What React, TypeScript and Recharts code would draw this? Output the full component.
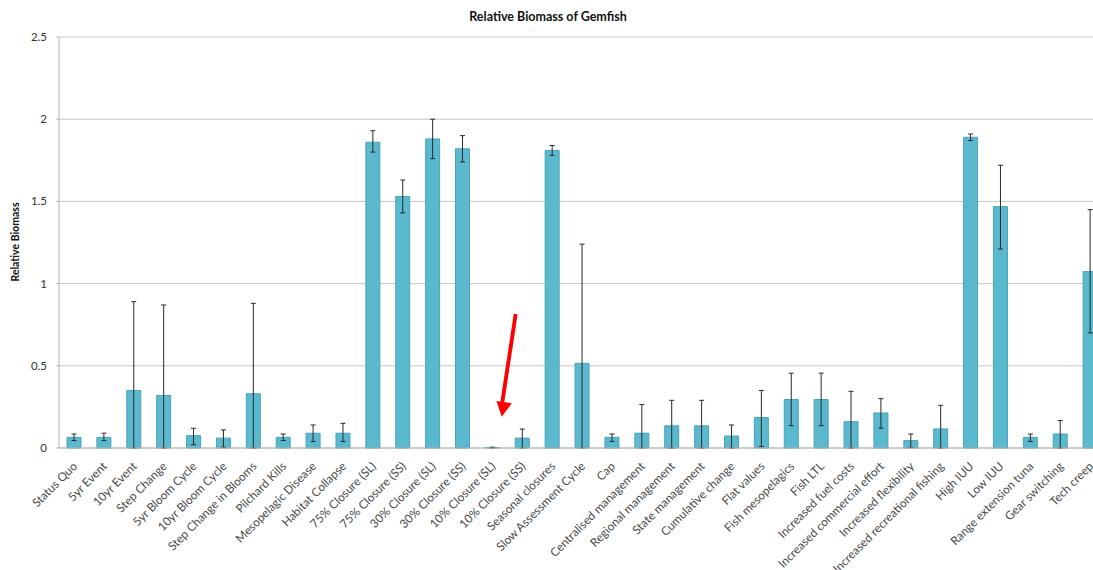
import { BarChart, Bar, XAxis, YAxis, CartesianGrid, ErrorBar } from "recharts";

const scenarios = [
  "Status Quo", "5yr Event", "10yr Event", "Step Change", "5yr Bloom Cycle",
  "10yr Bloom Cycle", "Step Change in Blooms", "Pilchard Kills", "Mesopelagic Disease",
  "Habitat Collapse", "75% Closure (SL)", "75% Closure (SS)", "30% Closure (SL)",
  "30% Closure (SS)", "10% Closure (SL)", "10% Closure (SS)", "Seasonal closures",
  "Slow Assessment Cycle", "Cap", "Centralised management", "Regional management",
  "State management", "Cumulative change", "Flat values", "Fish mesopelagics",
  "Fish LTL", "Increased fuel costs", "Increased commercial effort",
  "Increased flexibility", "Increased recreational fishing", "High IUU", "Low IUU",
  "Range extension tuna", "Gear switching", "Tech creep",
];

const biomass = [
  0.065, 0.065, 0.35, 0.32, 0.075, 0.06, 0.33, 0.065, 0.09, 0.09,
  1.86, 1.53, 1.88, 1.82, 0.003, 0.06, 1.81, 0.515, 0.065, 0.09,
  0.135, 0.135, 0.073, 0.185, 0.295, 0.295, 0.16, 0.213, 0.045, 0.116,
  1.89, 1.468, 0.065, 0.085, 1.073,
];

// lower / upper bounds of the error bars
const lowerBound = [
  0.045, 0.045, 0, 0, 0.02, 0.005, 0, 0.045, 0.04, 0.04,
  1.8, 1.43, 1.76, 1.74, 0.001, 0, 1.78, 0, 0.04, 0,
  0, 0, 0, 0.008, 0.136, 0.136, 0, 0.12, 0.003, 0,
  1.87, 1.21, 0.04, 0, 0.7,
];

const upperBound = [
  0.085, 0.09, 0.89, 0.87, 0.12, 0.11, 0.88, 0.085, 0.14, 0.15,
  1.93, 1.63, 2.0, 1.9, 0.005, 0.115, 1.84, 1.24, 0.085, 0.265,
  0.29, 0.29, 0.14, 0.35, 0.455, 0.455, 0.345, 0.3, 0.085, 0.26,
  1.91, 1.72, 0.085, 0.167, 1.45,
];

const yTicks = [0, 0.5, 1, 1.5, 2, 2.5];

const data = scenarios.map((name, i) => ({
  name,
  biomass: biomass[i],
  err: [biomass[i] - lowerBound[i], upperBound[i] - biomass[i]],
}));

const boundaryTicks = scenarios.map((_, i) => i).concat(scenarios.length);

const FONT = "Lato, 'Open Sans', sans-serif";

function CategoryTick(props: any) {
  const { x, y, payload } = props;
  return (
    <text
      x={x + 4}
      y={y + 11}
      transform={`rotate(-45 ${x + 4} ${y + 11})`}
      textAnchor="end"
      fontSize={11.8}
      fontFamily={FONT}
      fill="#4a4a4a"
    >
      {payload.value}
    </text>
  );
}

export default function App() {
  return (
    <div
      style={{
        position: "absolute",
        left: 0,
        top: 0,
        width: 1093,
        height: 570,
        overflow: "hidden",
        background: "#fff",
      }}
    >
      <BarChart
        width={1111}
        height={570}
        data={data}
        margin={{ top: 37, right: 6, bottom: 0, left: 0 }}
        barSize={14}
      >
        <CartesianGrid vertical={false} stroke="#c6c6c6" />
        <XAxis
          xAxisId="bounds"
          type="number"
          domain={[0, scenarios.length]}
          ticks={boundaryTicks}
          tick={false}
          height={0}
          axisLine={false}
          tickLine={{ stroke: "#b5b5b5" }}
          tickSize={5}
        />
        <XAxis
          dataKey="name"
          interval={0}
          height={122}
          tick={<CategoryTick />}
          tickLine={false}
          axisLine={{ stroke: "#b5b5b5" }}
        />
        <YAxis
          domain={[0, 2.5]}
          ticks={yTicks}
          width={59}
          tickSize={3}
          tickMargin={9}
          axisLine={{ stroke: "#b5b5b5" }}
          tickLine={{ stroke: "#b5b5b5" }}
          tick={{ fontSize: 11.5, fontFamily: FONT, fill: "#333" }}
        />
        <Bar
          dataKey="biomass"
          fill="#5bb9cf"
          stroke="#4aa3ba"
          strokeWidth={1}
          isAnimationActive={false}
        >
          <ErrorBar dataKey="err" width={2.5} stroke="#2a2a2a" strokeWidth={1} />
        </Bar>
        <text
          x={548}
          y={21}
          textAnchor="middle"
          fontSize={12.5}
          fontWeight="bold"
          fontFamily={FONT}
          fill="#111"
        >
          Relative Biomass of Gemfish
        </text>
        <text
          x={19}
          y={242}
          transform="rotate(-90 19 242)"
          textAnchor="middle"
          fontSize={10.5}
          fontWeight="bold"
          fontFamily={FONT}
          fill="#111"
        >
          Relative Biomass
        </text>
        {/* red annotation arrow */}
        <g fill="#ff0000" stroke="none">
          <polygon points="513.8,313.7 517.6,314.3 504.2,402.5 500.4,401.9" />
          <polygon points="496.5,401 511.8,403.3 501.7,416.8" />
        </g>
      </BarChart>
    </div>
  );
}
